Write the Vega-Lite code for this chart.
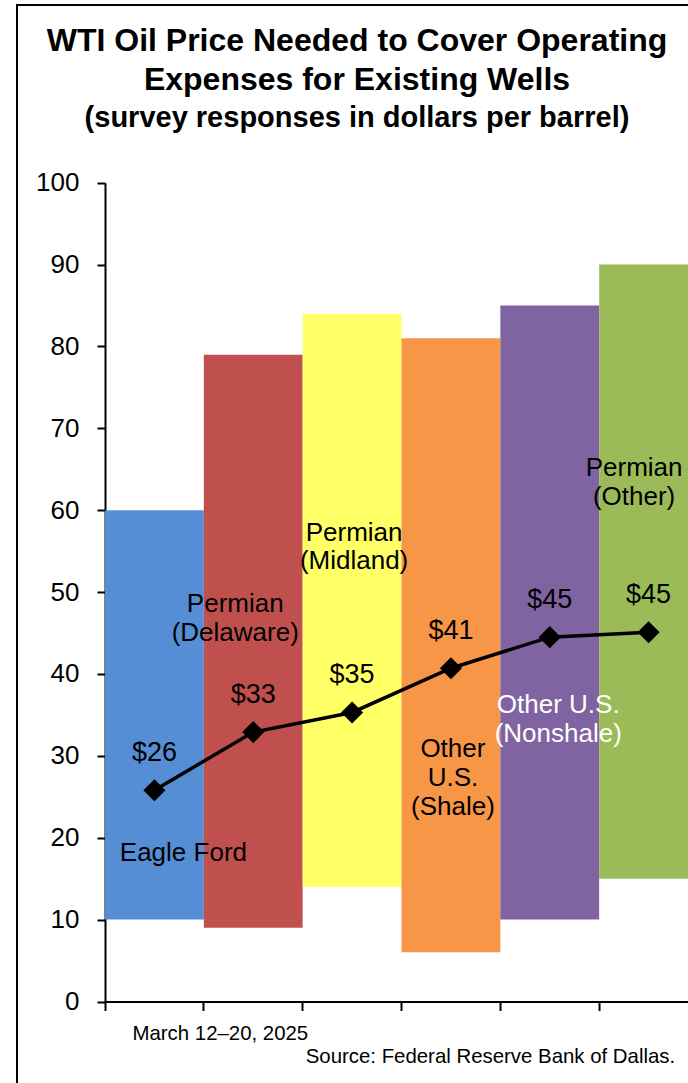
{
  "$schema": "https://vega.github.io/schema/vega-lite/v6.json",
  "autosize": {"type": "none"},
  "padding": {"left": 17, "top": 5, "right": -29, "bottom": -22},
  "width": 700,
  "height": 1100,
  "background": "white",
  "config": {
    "view": {"stroke": "black", "strokeWidth": 2},
    "font": "Liberation Sans",
    "text": {"font": "Liberation Sans", "color": "black"}
  },
  "title": {
    "text": ["WTI Oil Price Needed to Cover Operating", "Expenses for Existing Wells"],
    "subtitle": "(survey responses in dollars per barrel)",
    "anchor": "middle",
    "dx": -10,
    "offset": -129,
    "font": "Liberation Sans",
    "fontSize": 32,
    "fontWeight": "bold",
    "lineHeight": 39,
    "color": "black",
    "subtitleFont": "Liberation Sans",
    "subtitleFontSize": 29,
    "subtitleFontWeight": "bold",
    "subtitleColor": "black",
    "subtitlePadding": 7
  },
  "datasets": {
    "regions": [
      {"region": "Eagle Ford", "low": 10, "high": 60, "price": 25.8, "label": "$26"},
      {"region": "Permian (Delaware)", "low": 9, "high": 79, "price": 32.9, "label": "$33"},
      {"region": "Permian (Midland)", "low": 14, "high": 84, "price": 35.3, "label": "$35"},
      {"region": "Other U.S. (Shale)", "low": 6, "high": 81, "price": 40.7, "label": "$41"},
      {"region": "Other U.S. (Nonshale)", "low": 10, "high": 85, "price": 44.5, "label": "$45"},
      {"region": "Permian (Other)", "low": 15, "high": 90, "price": 45.1, "label": "$45"}
    ]
  },
  "data": {"name": "regions"},
  "encoding": {
    "x": {
      "field": "region",
      "type": "nominal",
      "sort": null,
      "scale": {
        "domain": ["Eagle Ford", "Permian (Delaware)", "Permian (Midland)", "Other U.S. (Shale)", "Other U.S. (Nonshale)", "Permian (Other)"],
        "range": [88, 681],
        "paddingInner": 0,
        "paddingOuter": 0
      },
      "axis": {
        "offset": -103.5,
        "labels": false,
        "bandPosition": 0,
        "ticks": true,
        "tickSize": 9,
        "tickWidth": 2,
        "tickColor": "black",
        "domainColor": "black",
        "domainWidth": 2,
        "grid": false,
        "title": "March 12–20, 2025",
        "titleFont": "Liberation Sans",
        "titleFontSize": 20.4,
        "titleFontWeight": "normal",
        "titleColor": "black",
        "titleAlign": "left",
        "titleBaseline": "alphabetic",
        "titleX": 115,
        "titleY": 37.5
      }
    }
  },
  "layer": [
    {
      "mark": {"type": "bar", "opacity": 1},
      "encoding": {
        "y": {
          "field": "low",
          "type": "quantitative",
          "scale": {"domain": [0, 100], "range": [996.5, 177.7], "nice": false, "zero": true},
          "axis": {
            "offset": -88,
            "values": [0, 10, 20, 30, 40, 50, 60, 70, 80, 90, 100],
            "title": null,
            "grid": false,
            "labelFont": "Liberation Sans",
            "labelFontSize": 26,
            "labelColor": "black",
            "labelPadding": 18,
            "tickSize": 8,
            "tickWidth": 2,
            "tickColor": "black",
            "domainColor": "black",
            "domainWidth": 2
          }
        },
        "y2": {"field": "high"},
        "color": {
          "field": "region",
          "type": "nominal",
          "legend": null,
          "scale": {
            "domain": ["Eagle Ford", "Permian (Delaware)", "Permian (Midland)", "Other U.S. (Shale)", "Other U.S. (Nonshale)", "Permian (Other)"],
            "range": ["#558ED5", "#C0504D", "#FFFF66", "#F79646", "#8064A2", "#9BBB59"]
          }
        }
      }
    },
    {
      "mark": {"type": "line", "color": "black", "strokeWidth": 3.5},
      "encoding": {"y": {"field": "price", "type": "quantitative"}}
    },
    {
      "mark": {"type": "point", "shape": "diamond", "filled": true, "color": "black", "size": 490, "opacity": 1},
      "encoding": {"y": {"field": "price", "type": "quantitative"}}
    },
    {
      "mark": {"type": "text", "fontSize": 27, "baseline": "alphabetic", "align": "center", "dy": -29, "color": "black"},
      "encoding": {"y": {"field": "price", "type": "quantitative"}, "text": {"field": "label"}}
    },
    {
      "data": {"values": [{"note": "Eagle Ford"}]},
      "mark": {"type": "text", "fontSize": 26, "baseline": "alphabetic", "align": "center", "dx": 29, "lineHeight": 29, "color": "black"},
      "encoding": {"x": {"datum": "Eagle Ford"}, "y": {"datum": 17.16}, "text": {"field": "note"}}
    },
    {
      "data": {"values": [{"note": ["Permian", "(Delaware)"]}]},
      "mark": {"type": "text", "fontSize": 26, "baseline": "alphabetic", "align": "center", "dx": -18, "lineHeight": 29, "color": "black"},
      "encoding": {"x": {"datum": "Permian (Delaware)"}, "y": {"datum": 47.57}, "text": {"field": "note"}}
    },
    {
      "data": {"values": [{"note": ["Permian", "(Midland)"]}]},
      "mark": {"type": "text", "fontSize": 26, "baseline": "alphabetic", "align": "center", "dx": 2, "lineHeight": 28, "color": "black"},
      "encoding": {"x": {"datum": "Permian (Midland)"}, "y": {"datum": 56.24}, "text": {"field": "note"}}
    },
    {
      "data": {"values": [{"note": ["Other", "U.S.", "(Shale)"]}]},
      "mark": {"type": "text", "fontSize": 26, "baseline": "alphabetic", "align": "center", "dx": 2, "lineHeight": 29, "color": "black"},
      "encoding": {"x": {"datum": "Other U.S. (Shale)"}, "y": {"datum": 29.86}, "text": {"field": "note"}}
    },
    {
      "data": {"values": [{"note": ["Other U.S.", "(Nonshale)"]}]},
      "mark": {"type": "text", "fontSize": 26, "baseline": "alphabetic", "align": "center", "dx": 8.5, "lineHeight": 29, "color": "white"},
      "encoding": {"x": {"datum": "Other U.S. (Nonshale)"}, "y": {"datum": 35.23}, "text": {"field": "note"}}
    },
    {
      "data": {"values": [{"note": ["Permian", "(Other)"]}]},
      "mark": {"type": "text", "fontSize": 26, "baseline": "alphabetic", "align": "center", "dx": -14.5, "lineHeight": 29, "color": "black"},
      "encoding": {"x": {"datum": "Permian (Other)"}, "y": {"datum": 64.18}, "text": {"field": "note"}}
    },
    {
      "data": {"values": [{"note": "Source: Federal Reserve Bank of Dallas."}]},
      "mark": {"type": "text", "fontSize": 20.4, "baseline": "alphabetic", "align": "right", "dx": 26.6, "color": "black"},
      "encoding": {"x": {"datum": "Permian (Other)"}, "y": {"datum": -7.51}, "text": {"field": "note"}}
    }
  ]
}
